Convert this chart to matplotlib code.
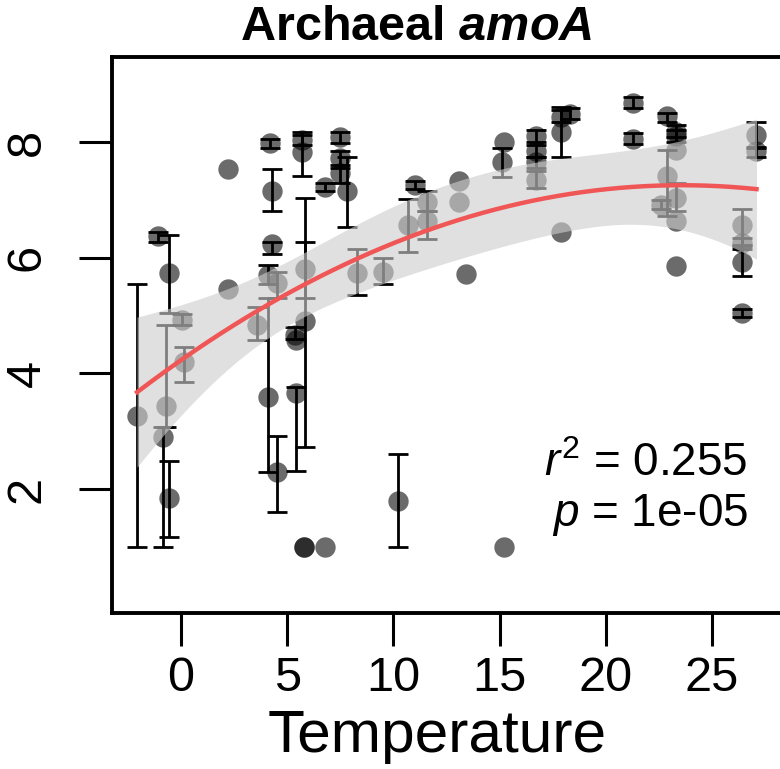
import numpy as np
import matplotlib.pyplot as plt

plt.rcParams['font.family'] = ['Liberation Sans', 'DejaVu Sans']
plt.rcParams['mathtext.fontset'] = 'custom'
plt.rcParams['mathtext.rm'] = 'Liberation Sans'
plt.rcParams['mathtext.it'] = 'Liberation Sans:italic'
plt.rcParams['mathtext.bf'] = 'Liberation Sans:bold'
plt.rcParams['mathtext.bfit'] = 'Liberation Sans:italic:bold'

nan = np.nan

# Sample means (log abundance) vs temperature, with error bar limits (nan = no bar)
temp = [-2.07, -1.08, -0.56, -0.85, -0.56, 2.2, 2.2, 4.2, 4.3, 4.3,
        4.1, 4.1, 4.5, 5.35, 5.4, 5.4, 5.85, 5.8, 5.8, 6.8,
        5.7, 5.7, 6.8, 7.5, 7.5, 7.5, 7.8, 11.0, 13.1, 13.4,
        15.2, 15.1, 16.7, 16.7, 10.2, 15.2, 17.9, 18.3, 17.9, 17.9,
        21.3, 21.3, 22.9, 23.3, 23.3, 23.3, 23.3, 26.4, 26.4, 26.4,
        27.1,
        -0.7, 0.05, 0.14, 3.6, 4.5, 5.85, 8.3, 9.5, 10.7, 11.6,
        11.6, 13.1, 16.7, 16.7, 22.9, 23.3, 23.3, 22.6, 26.4, 27.1]
abund = [3.27, 6.37, 5.74, 2.91, 1.85, 7.54, 5.46, 7.98, 7.16, 6.23,
         5.71, 3.60, 2.30, 4.67, 4.57, 3.67, 4.90, 1.00, 1.00, 1.00,
         8.03, 7.82, 7.23, 8.08, 7.73, 7.46, 7.15, 7.25, 7.32, 5.72,
         8.00, 7.65, 8.10, 7.84, 1.80, 1.00, 8.44, 8.48, 8.18, 6.44,
         8.68, 8.06, 8.45, 8.17, 8.10, 6.63, 5.85, 6.26, 5.92, 5.05,
         7.84,
         3.43, 4.93, 4.19, 4.84, 5.57, 5.81, 5.74, 5.76, 6.56, 6.97,
         6.64, 6.97, 7.66, 7.35, 7.42, 7.87, 7.04, 6.92, 6.57, 8.13]
err_lo = [1.00, 6.28, 5.05, 1.00, 1.18, nan, nan, 7.90, 6.80, 6.07,
          5.55, 2.30, 1.60, 4.60, nan, 2.32, 2.73, nan, nan, nan,
          7.95, 7.42, 7.15, 7.98, 7.55, 7.30, 6.54, 7.18, nan, nan,
          nan, 7.39, 8.00, 7.75, 1.00, nan, 8.35, 8.40, 7.75, nan,
          8.58, 7.97, 8.35, 8.08, 8.00, nan, nan, 6.15, 5.68, 4.98,
          7.75,
          3.08, 4.83, 3.86, 4.58, 5.30, 5.31, 5.35, 5.54, 6.10, 6.80,
          6.33, nan, 7.55, 7.20, 6.73, nan, 6.80, 6.85, 6.20, 7.90]
err_hi = [5.54, 6.44, 6.40, 3.08, 2.49, nan, nan, 8.05, 7.53, 6.28,
          5.88, 5.30, 2.92, 4.80, nan, 3.77, 7.04, nan, nan, nan,
          8.12, 8.17, 7.30, 8.18, 7.85, 7.60, 7.75, 7.32, nan, nan,
          nan, 7.89, 8.20, 7.95, 2.60, nan, 8.55, 8.58, 8.60, nan,
          8.78, 8.15, 8.50, 8.30, 8.20, nan, nan, 6.35, 6.22, 5.12,
          7.92,
          4.83, 5.03, 4.46, 5.15, 5.75, 6.28, 6.16, 6.00, 7.02, 7.15,
          6.80, nan, 7.75, 7.50, 7.87, nan, 7.30, 7.00, 6.85, 8.34]

x = np.array(temp)
y = np.array(abund)
lo = np.array(err_lo)
hi = np.array(err_hi)
has_bar = ~np.isnan(lo)

# Quadratic fit with 95% confidence band
coef, cov = np.polyfit(x, y, 2, cov=True)
xs = np.linspace(x.min(), x.max(), 200)
X = np.vstack([xs ** 2, xs, np.ones_like(xs)]).T
fit = X @ coef
se = np.sqrt(np.einsum('ij,jk,ik->i', X, cov, X))
t_crit = 1.995

fig = plt.figure(figsize=(7.8, 7.69), dpi=100)
ax = fig.add_axes([112 / 780, 1 - 613 / 769, 674 / 780, 556 / 769])

ax.errorbar(x[has_bar], y[has_bar],
            yerr=[y[has_bar] - lo[has_bar], hi[has_bar] - y[has_bar]],
            fmt='none', ecolor='black', elinewidth=2.0, capsize=7, capthick=2.0, zorder=2)
ax.scatter(x, y, s=215, color='black', alpha=0.58, linewidths=0, zorder=3)
ax.fill_between(xs, fit - t_crit * se, fit + t_crit * se, color='#cdcdcd', alpha=0.62,
                linewidth=0, zorder=4)
ax.plot(xs, fit, color='#f05656', linewidth=3.2, zorder=5)

ax.set_xlim(-3.25, 28.49)
ax.set_ylim(-0.14, 9.47)
ax.set_xticks([0, 5, 10, 15, 20, 25])
ax.set_yticks([2, 4, 6, 8])
for s in ax.spines.values():
    s.set_linewidth(2.8)
ax.tick_params(axis='both', length=24, width=2.2, labelsize=35)
ax.tick_params(axis='x', pad=7)
ax.tick_params(axis='y', pad=21, labelrotation=90)
for lab in ax.get_yticklabels():
    lab.set_va('center')

fig.text(416 / 780, 1 - 28 / 769, r'Archaeal $\mathbfit{amoA}$', fontsize=35,
         fontweight='bold', ha='center', va='center')
fig.text(437 / 780, 1 - 752 / 769, 'Temperature', fontsize=43.5, ha='center', va='baseline')
fig.text(748 / 780, 1 - 476 / 769, r'$r^2$ = 0.255', fontsize=33, ha='right', va='baseline')
fig.text(748 / 780, 1 - 526 / 769, r'$p$ = 1e-05', fontsize=33, ha='right', va='baseline')

fig.savefig('out.png', dpi=100)
